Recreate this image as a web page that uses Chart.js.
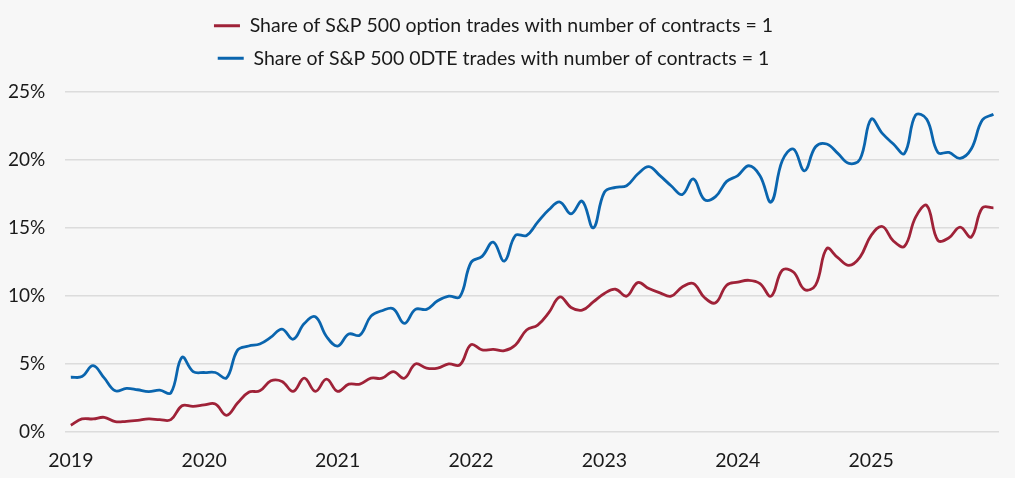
<!DOCTYPE html>
<html>
<head>
<meta charset="utf-8">
<script src="https://cdn.jsdelivr.net/npm/chart.js@4.4.1/dist/chart.umd.min.js"></script>
<style>
  html, body { margin: 0; padding: 0; background: #f7f7f7; }
  #wrap { width: 1015px; height: 478px; }
</style>
</head>
<body>
<div id="wrap"><canvas id="shareChart" width="1015" height="478"></canvas></div>
<script>
// monthly, Jan 2019 .. Dec 2025
const years = ['2019', '2020', '2021', '2022', '2023', '2024', '2025'];
const months = [];
years.forEach(y => {
  for (let m = 1; m <= 12; m++) months.push(y + '-' + String(m).padStart(2, '0'));
});

// share (%) of S&P 500 option trades with 1 contract
const allOptions = [
  0.47, 0.93, 0.93, 1.05, 0.73, 0.76, 0.83, 0.93, 0.88, 0.88, 1.9, 1.86,
  1.97, 2.03, 1.2, 2.1, 2.9, 3.0, 3.74, 3.69, 2.96, 3.93, 2.96, 3.86,
  2.96, 3.49, 3.5, 3.93, 3.93, 4.42, 3.93, 4.98, 4.67, 4.67, 4.98, 4.91,
  6.4, 6.01, 6.06, 5.96, 6.38, 7.48, 7.84, 8.75, 9.92, 9.14, 8.94, 9.55,
  10.17, 10.48, 9.97, 10.97, 10.53, 10.21, 9.97, 10.65, 10.9, 9.87, 9.48, 10.78,
  11.0, 11.14, 10.9, 9.97, 11.88, 11.75, 10.46, 10.78, 13.47, 12.8, 12.24, 12.85,
  14.45, 15.1, 14.03, 13.64, 15.79, 16.64, 14.08, 14.27, 15.05, 14.32, 16.47, 16.47
];

// share (%) of S&P 500 0DTE trades with 1 contract
const zeroDte = [
  4.0, 4.05, 4.85, 3.95, 3.0, 3.18, 3.08, 2.95, 3.05, 2.85, 5.47, 4.42,
  4.35, 4.35, 3.95, 6.0, 6.3, 6.45, 6.95, 7.55, 6.8, 7.95, 8.45, 7.0,
  6.3, 7.18, 7.1, 8.5, 8.9, 9.05, 7.97, 9.0, 9.0, 9.63, 9.97, 9.92,
  12.45, 12.9, 13.95, 12.55, 14.44, 14.44, 15.42, 16.33, 16.9, 16.03, 16.96, 15.0,
  17.62, 17.98, 18.1, 18.96, 19.5, 18.84, 18.1, 17.45, 18.6, 17.08, 17.3, 18.42,
  18.85, 19.57, 18.84, 16.9, 19.94, 20.8, 19.2, 20.97, 21.17, 20.48, 19.74, 20.06,
  23.0, 21.95, 21.17, 20.48, 23.3, 23.0, 20.55, 20.55, 20.11, 20.8, 22.93, 23.36
];

const yTicks = [0, 5, 10, 15, 20, 25];

const RED = '#9f2238';
const BLUE = '#0a65ae';
const FONT = 'Lato, "Open Sans", sans-serif';

// extra room between legend and plot
const legendGap = {
  id: 'legendGap',
  beforeInit(chart) {
    const fit = chart.legend.fit;
    chart.legend.fit = function () {
      fit.bind(chart.legend)();
      this.height += 14;
    };
  }
};

const ctx = document.getElementById('shareChart');
new Chart(ctx, {
  type: 'line',
  data: {
    labels: months,
    datasets: [{
      label: 'Share of S&P 500 option trades with number of contracts = 1',
      data: allOptions,
      borderColor: RED,
      backgroundColor: RED,
      borderWidth: 2.8,
      pointRadius: 0,
      tension: 0.4
    }, {
      label: 'Share of S&P 500 0DTE trades with number of contracts = 1',
      data: zeroDte,
      borderColor: BLUE,
      backgroundColor: BLUE,
      borderWidth: 2.8,
      pointRadius: 0,
      tension: 0.4
    }]
  },
  plugins: [legendGap],
  options: {
    responsive: false,
    animation: false,
    layout: { padding: { left: -12, right: 16, top: 3, bottom: -3 } },
    plugins: {
      tooltip: { enabled: false },
      legend: {
        position: 'top',
        labels: {
          font: { family: FONT, size: 19.5 },
          color: '#1a1a1a',
          boxWidth: 26,
          boxHeight: 3,
          padding: 13,
          generateLabels: chart => {
            const items = Chart.defaults.plugins.legend.labels.generateLabels(chart);
            items.forEach(it => { it.lineWidth = 0; });
            return items;
          }
        }
      }
    },
    scales: {
      x: {
        offset: true,
        grid: { display: false },
        border: { display: false },
        ticks: {
          autoSkip: false,
          maxRotation: 0,
          padding: 9,
          color: '#1a1a1a',
          font: { family: FONT, size: 19.5 },
          callback: function (v, i) {
            const lab = months[i];
            return lab.endsWith('-01') ? lab.slice(0, 4) : '';
          }
        }
      },
      y: {
        min: yTicks[0],
        max: yTicks[yTicks.length - 1],
        border: { display: false },
        grid: { color: '#dcdcdc', lineWidth: 1.5, drawTicks: false },
        afterBuildTicks: s => { s.ticks = yTicks.map(v => ({ value: v })); },
        ticks: {
          padding: 20,
          color: '#1a1a1a',
          font: { family: FONT, size: 19 },
          callback: v => v + '%'
        }
      }
    }
  }
});
</script>
</body>
</html>
